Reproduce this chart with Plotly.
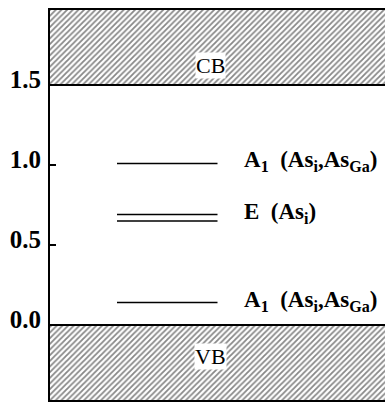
import plotly.graph_objects as go

# Energy axis (eV) and band edges
y_range = [-0.47, 1.97]
y_ticks = [0.0, 0.5, 1.0, 1.5]
y_ticklabels = ["0.0", "0.5", "1.0", "1.5"]
band_names = ["CB", "VB"]
band_edges = [1.5, 0.0]

# Defect levels inside the gap
level_energies = [1.01, 0.69, 0.65, 0.14]
level_labels = [
    "A<sub>1</sub>  (As<sub>i</sub>,As<sub>Ga</sub>)",
    "E  (As<sub>i</sub>)",
    None,
    "A<sub>1</sub>  (As<sub>i</sub>,As<sub>Ga</sub>)",
]
label_energies = [1.01, 0.69, None, 0.14]

x_range = [0, 1]
level_x = [0.2, 0.5]
label_x = 0.573

SERIF = "Liberation Serif"

fig = go.Figure()

# Hatched conduction and valence bands
band_spans = [
    (band_edges[0], y_range[1]),
    (y_range[0], band_edges[1]),
]
for name, (lo, hi) in zip(band_names, band_spans):
    fig.add_trace(go.Scatter(
        x=[x_range[0], x_range[1], x_range[1], x_range[0], x_range[0]],
        y=[lo, lo, hi, hi, lo],
        mode="lines",
        fill="toself",
        fillcolor="white",
        fillpattern=dict(shape="/", size=4, solidity=0.45,
                         fgcolor="#111111", bgcolor="white"),
        line=dict(color="rgba(0,0,0,0)", width=0),
        hoverinfo="skip",
        showlegend=False,
        name=name,
    ))

# Band edge lines
for e in band_edges:
    fig.add_trace(go.Scatter(
        x=x_range, y=[e, e], mode="lines",
        line=dict(color="black", width=2),
        hoverinfo="skip", showlegend=False,
    ))

# Defect levels
for e in level_energies:
    fig.add_trace(go.Scatter(
        x=level_x, y=[e, e], mode="lines",
        line=dict(color="black", width=1.5),
        hoverinfo="skip", showlegend=False,
    ))

annotations = []
for txt, e in zip(level_labels, label_energies):
    if txt is None:
        continue
    annotations.append(dict(
        x=label_x, y=e, xref="x", yref="y", text=txt, showarrow=False,
        xanchor="left", yanchor="middle", yshift=2,
        font=dict(family=SERIF, size=23, color="black", weight="bold"),
    ))

band_label_y = [1.625, -0.195]
for name, y in zip(band_names, band_label_y):
    annotations.append(dict(
        x=0.478, y=y, xref="x", yref="y", text=name, showarrow=False,
        xanchor="center", yanchor="middle",
        bgcolor="white", borderpad=0,
        font=dict(family=SERIF, size=22, color="black"),
    ))

fig.update_layout(
    width=385, height=402,
    margin=dict(l=50, r=0, t=10, b=2),
    paper_bgcolor="white", plot_bgcolor="white",
    annotations=annotations,
    xaxis=dict(range=x_range, showgrid=False, zeroline=False,
               showticklabels=False, ticks="",
               showline=True, linecolor="black", linewidth=2, mirror=True),
    yaxis=dict(range=y_range, showgrid=False, zeroline=False,
               tickvals=y_ticks, ticktext=y_ticklabels,
               ticks="inside", ticklen=6, tickcolor="black", tickwidth=1.5,
               ticklabelshift=-6, ticklabelstandoff=2,
               showline=True, linecolor="black", linewidth=2,
               tickfont=dict(family=SERIF, size=25, color="black", weight="bold")),
)

fig.write_html("out.html")
